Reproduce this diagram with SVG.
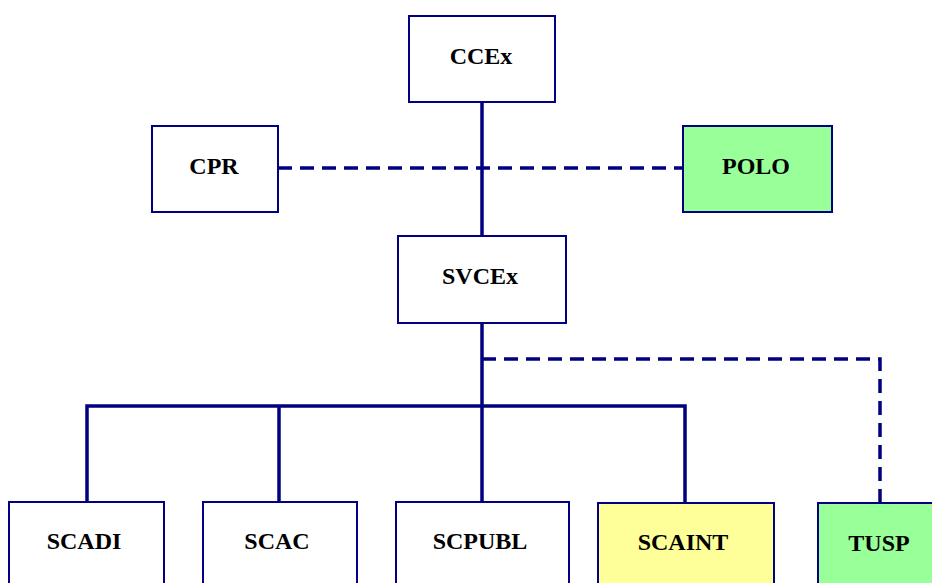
<svg xmlns="http://www.w3.org/2000/svg" width="932" height="583" viewBox="0 0 932 583">
<style>
.box{stroke:#000080;stroke-width:2;fill:#ffffff}
.green{fill:#99ff99}
.yellow{fill:#ffff99}
.lbl{font-family:"Liberation Serif","Times New Roman",serif;font-weight:bold;font-size:24px;fill:#000;text-anchor:middle}
.solid{stroke:#000080;stroke-width:3.5;fill:none}
.dash{stroke:#000080;stroke-width:3.5;fill:none;stroke-dasharray:14 8}
</style>
<rect width="932" height="583" fill="#ffffff"/>
<g id="connectors">
<path class="solid" d="M482,102 V236"/>
<path class="solid" d="M482,323 V502"/>
<path class="solid" d="M87,502 V406 H685 V503"/>
<path class="solid" d="M279,406 V502"/>
<path class="dash" d="M278,168 H683"/>
<path class="dash" d="M482,359 H880 V503"/>
</g>
<g id="CCEx"><rect class="box" x="409" y="16" width="146" height="86"/><text class="lbl" x="481" y="64">CCEx</text></g>
<g id="CPR"><rect class="box" x="152" y="126" width="126" height="86"/><text class="lbl" x="214" y="174">CPR</text></g>
<g id="POLO"><rect class="box green" x="683" y="126" width="149" height="86"/><text class="lbl" x="756" y="174">POLO</text></g>
<g id="SVCEx"><rect class="box" x="398" y="236" width="168" height="87"/><text class="lbl" x="480" y="284">SVCEx</text></g>
<g id="SCADI"><rect class="box" x="9" y="502" width="155" height="90"/><text class="lbl" x="84" y="549">SCADI</text></g>
<g id="SCAC"><rect class="box" x="203" y="502" width="154" height="90"/><text class="lbl" x="277" y="549">SCAC</text></g>
<g id="SCPUBL"><rect class="box" x="396" y="502" width="173" height="90"/><text class="lbl" x="480" y="549">SCPUBL</text></g>
<g id="SCAINT"><rect class="box yellow" x="598" y="503" width="176" height="90"/><text class="lbl" x="683" y="550">SCAINT</text></g>
<g id="TUSP"><rect class="box green" x="818" y="503" width="130" height="90"/><text class="lbl" x="879" y="551">TUSP</text></g>
</svg>
